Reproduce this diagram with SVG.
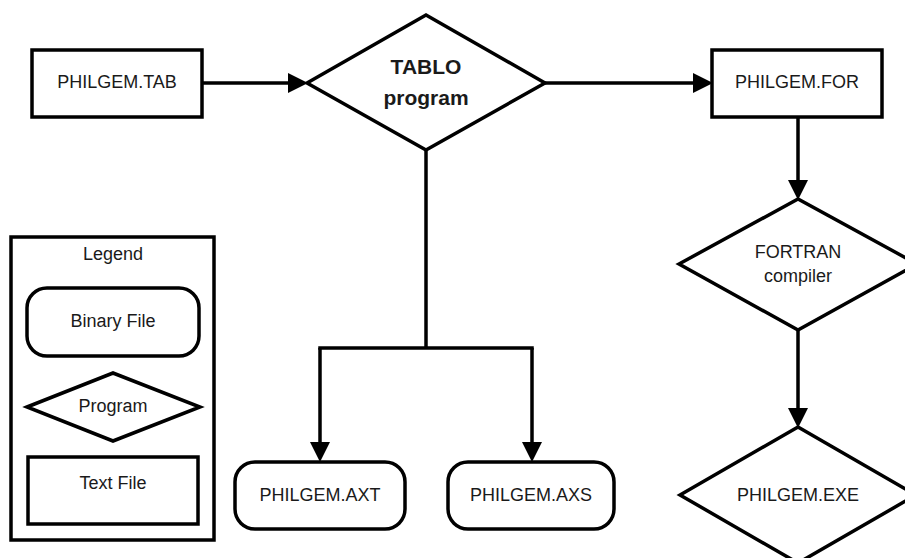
<svg xmlns="http://www.w3.org/2000/svg" width="905" height="558" viewBox="0 0 905 558">
  <style>
    .shape { fill: #ffffff; stroke: #000000; stroke-width: 3.5; stroke-linejoin: miter; }
    .edge { fill: none; stroke: #000000; stroke-width: 3.5; }
    .label { font-family: "Liberation Sans", Arial, sans-serif; font-size: 18px; fill: #1a1a1a; text-anchor: middle; dominant-baseline: central; }
    .bold { font-weight: bold; font-size: 21px; }
  </style>
  <defs>
    <marker id="arrow" viewBox="0 0 20 20" refX="0" refY="10" markerWidth="20" markerHeight="20" markerUnits="userSpaceOnUse" orient="auto">
      <path d="M0,0 L20,10 L0,20 z" fill="#000000"/>
    </marker>
  </defs>
  <rect width="905" height="558" fill="#ffffff"/>

  <!-- connectors -->
  <g id="connectors">
    <path class="edge" d="M202,83 H288" marker-end="url(#arrow)"/>
    <path class="edge" d="M545,83 H693" marker-end="url(#arrow)"/>
    <path class="edge" d="M798,117 V180" marker-end="url(#arrow)"/>
    <path class="edge" d="M798,330 V408" marker-end="url(#arrow)"/>
    <path class="edge" d="M426,150 V348"/>
    <path class="edge" d="M318.25,348 H533.75"/>
    <path class="edge" d="M320,348 V442" marker-end="url(#arrow)"/>
    <path class="edge" d="M532,348 V442" marker-end="url(#arrow)"/>
  </g>

  <!-- nodes -->
  <g id="philgem-tab">
    <rect class="shape" x="32" y="50" width="170" height="67"/>
    <text class="label" x="117" y="82">PHILGEM.TAB</text>
  </g>

  <g id="tablo-program">
    <polygon class="shape" points="307,83 426,15 545,83 426,150"/>
    <text class="label bold" x="426" y="66">TABLO</text>
    <text class="label bold" x="426" y="97">program</text>
  </g>

  <g id="philgem-for">
    <rect class="shape" x="712" y="50" width="170" height="67"/>
    <text class="label" x="797" y="82">PHILGEM.FOR</text>
  </g>

  <g id="fortran-compiler">
    <polygon class="shape" points="679,264 798,199 917,264 798,330"/>
    <text class="label" x="798" y="252">FORTRAN</text>
    <text class="label" x="798" y="276">compiler</text>
  </g>

  <g id="philgem-exe">
    <polygon class="shape" points="680,495 798,427 916,495 798,563"/>
    <text class="label" x="798" y="495">PHILGEM.EXE</text>
  </g>

  <g id="philgem-axt">
    <rect class="shape" x="235" y="462" width="170" height="67" rx="20" ry="20"/>
    <text class="label" x="320" y="495">PHILGEM.AXT</text>
  </g>

  <g id="philgem-axs">
    <rect class="shape" x="448" y="462" width="166" height="67" rx="20" ry="20"/>
    <text class="label" x="531" y="495">PHILGEM.AXS</text>
  </g>

  <!-- legend -->
  <g id="legend">
    <rect class="shape" x="11" y="237" width="203" height="303"/>
    <text class="label" x="113" y="254">Legend</text>
    <rect class="shape" x="27" y="288" width="172" height="68" rx="20" ry="20"/>
    <text class="label" x="113" y="321">Binary File</text>
    <polygon class="shape" points="27,407 113,373 200,407 113,441"/>
    <text class="label" x="113" y="406">Program</text>
    <rect class="shape" x="28" y="457" width="170" height="67"/>
    <text class="label" x="113" y="483">Text File</text>
  </g>
</svg>
